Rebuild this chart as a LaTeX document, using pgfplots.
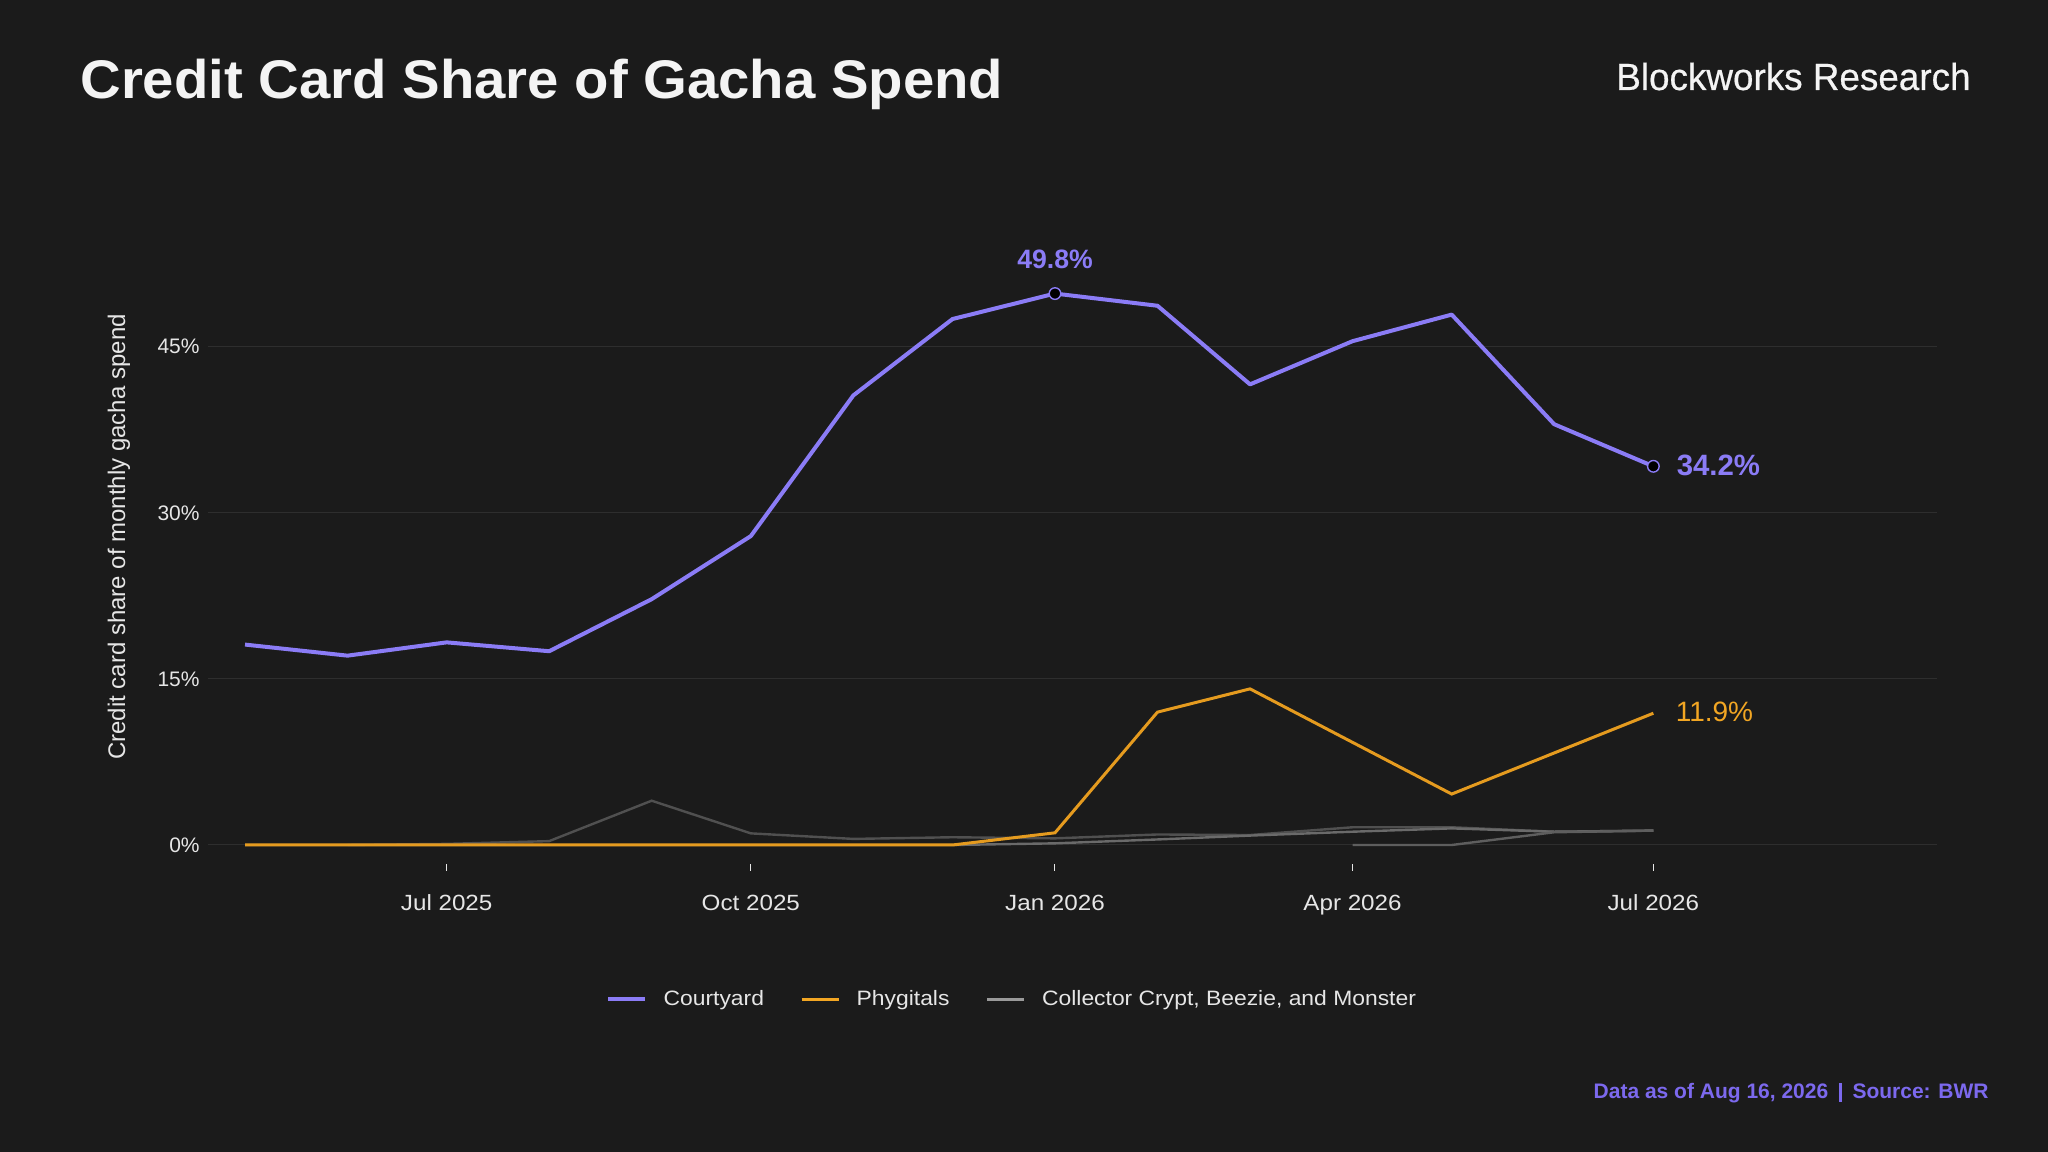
\documentclass[border=0pt]{standalone}
\usepackage{pgfplots}
\pgfplotsset{compat=1.18}
\usepackage{fontspec}
\setmainfont{Liberation Sans}
\newfontfamily\widefont[FakeStretch=1.1]{Liberation Sans}
\newfontfamily\titlefont[FakeStretch=1.035]{Liberation Sans}
\newfontfamily\brandfont[FakeStretch=0.975, FakeBold=0.5]{Liberation Sans}
\definecolor{bg}{HTML}{1B1B1B}
\definecolor{gridc}{HTML}{2E2E2E}
\definecolor{titlec}{HTML}{F4F4F4}
\definecolor{textc}{HTML}{E6E6E6}
\definecolor{purp}{HTML}{8B7CF6}
\definecolor{foot}{HTML}{7C69EE}
\definecolor{orng}{HTML}{E59B1F}
\definecolor{orngt}{HTML}{F2A623}
\definecolor{grayA}{HTML}{505050}
\definecolor{grayB}{HTML}{6A6A6A}
\definecolor{grayC}{HTML}{5E5E5E}
\definecolor{grayL}{HTML}{9A9A9A}
\begin{document}
\begin{tikzpicture}
\useasboundingbox (0,0) rectangle (1024bp,576bp);
\fill[bg] (0,0) rectangle (1024bp,576bp);
\begin{axis}[
  at={(104bp,144bp)}, anchor=south west,
  scale only axis, width=864.5bp, height=314bp,
  xmin=-72.2, xmax=450.8, ymin=-1.716, ymax=55,
  axis line style={draw=none},
  xtick pos=lower, ytick pos=left,
  tick align=outside, major tick length=3.5bp,
  xtick={0,92,184,274,365},
  xticklabels={Jul 2025,Oct 2025,Jan 2026,Apr 2026,Jul 2026},
  ytick={0,15,30,45},
  yticklabels={0\%,15\%,30\%,45\%},
  x tick style={draw=textc, line width=0.5bp},
  y tick style={draw=none},
  xticklabel style={font=\widefont\fontsize{11bp}{13bp}\selectfont, text=textc, anchor=base, inner sep=0pt, yshift=-20bp},
  yticklabel style={font=\fontsize{10.5bp}{12bp}\selectfont, text=textc, anchor=east, inner sep=0pt, xshift=-0.5bp},
  ymajorgrids, grid style={line width=0.5bp, draw=gridc},
  clip=false,
  legend style={at={(0.2302,-0.215)}, anchor=west, draw=none, fill=none, inner sep=0pt, outer sep=0pt,
    legend columns=-1, font=\widefont\fontsize{10.4bp}{12bp}\selectfont, text=textc,
    nodes={inner sep=0pt},
    /tikz/every even column/.append style={column sep=18bp},
    /tikz/every odd column/.append style={column sep=8.3bp}},
  legend image code/.code={\draw[#1] (0bp,0bp) -- (18.5bp,0bp);},
]
\addlegendimage{purp, line width=2bp}
\addlegendentry{Courtyard}
\addlegendimage{orngt, line width=1.5bp}
\addlegendentry{Phygitals}
\addlegendimage{grayL, line width=1.5bp}
\addlegendentry{Collector Crypt, Beezie, and Monster}
% gray series
\addplot[forget plot, grayA, line width=1.2bp] coordinates {
 (-30,0) (0,0.1) (31,0.35) (62,4.0) (92,1.05) (123,0.55) (153,0.7) (184,0.6)
 (215,0.95) (243,0.9) (274,1.6) (304,1.6) (335,1.2) (365,1.3)};
\addplot[forget plot, grayB, line width=1.2bp] coordinates {
 (-61,0) (-30,0) (0,0) (31,0) (62,0) (92,0) (123,0) (153,0) (184,0.15)
 (215,0.5) (243,0.85) (274,1.2) (304,1.5) (335,1.2) (365,1.3)};
\addplot[forget plot, grayC, line width=1.2bp] coordinates {
 (274,0) (304,0) (335,1.15) (365,1.3)};
% Phygitals
\addplot[forget plot, orng, line width=1.5bp] coordinates {
 (-61,0) (-30,0) (0,0) (31,0) (62,0) (92,0) (123,0) (153,0) (184,1.1)
 (215,12.0) (243,14.1) (274,9.27) (304,4.6) (335,8.31) (365,11.9)};
% Courtyard
\addplot[forget plot, purp, line width=2bp, line join=round] coordinates {
 (-61,18.1) (-30,17.1) (0,18.3) (31,17.5) (62,22.2) (92,27.9) (123,40.6) (153,47.5)
 (184,49.8) (215,48.7) (243,41.6) (274,45.5) (304,47.9) (335,38.0) (365,34.2)};
\addplot[forget plot, only marks, mark=*, mark size=2.9bp, mark options={fill=black, draw=purp, line width=0.7bp}]
 coordinates {(184,49.8) (365,34.2)};
\node[anchor=base, inner sep=0pt, text=purp, font=\bfseries\fontsize{13.3bp}{15bp}\selectfont] at (axis cs:184,49.8) [yshift=12.35bp] {49.8\%};
\node[anchor=base west, inner sep=0pt, text=purp, font=\bfseries\fontsize{14.7bp}{16bp}\selectfont] at (axis cs:365,34.2) [xshift=11.5bp, yshift=-4.5bp] {34.2\%};
\node[anchor=base west, inner sep=0pt, text=orngt, font=\fontsize{14bp}{16bp}\selectfont] at (axis cs:365,11.9) [xshift=11bp, yshift=-4.35bp] {11.9\%};
\end{axis}
\node[anchor=base west, inner sep=0pt, text=titlec, font=\titlefont\bfseries\fontsize{27.2bp}{30bp}\selectfont] at (40bp,526.5bp) {Credit Card Share of Gacha Spend};
\node[anchor=base east, inner sep=0pt, text=titlec, font=\brandfont\fontsize{18.9bp}{21bp}\selectfont] at (985.5bp,531bp) {Blockworks Research};
\node[anchor=base east, inner sep=0pt, text=foot, font=\bfseries\fontsize{10.5bp}{12bp}\selectfont] at (994.5bp,27bp) {Data as of Aug 16, 2026\hspace{5.5bp}\rule[-1.85bp]{1.1bp}{9.5bp}\hspace{5.5bp}Source: BWR};
\node[rotate=90, anchor=center, inner sep=0pt, text=textc, font=\fontsize{12bp}{14bp}\selectfont] at (59.5bp,307.5bp) {Credit card share of monthly gacha spend};
\end{tikzpicture}
\end{document}
